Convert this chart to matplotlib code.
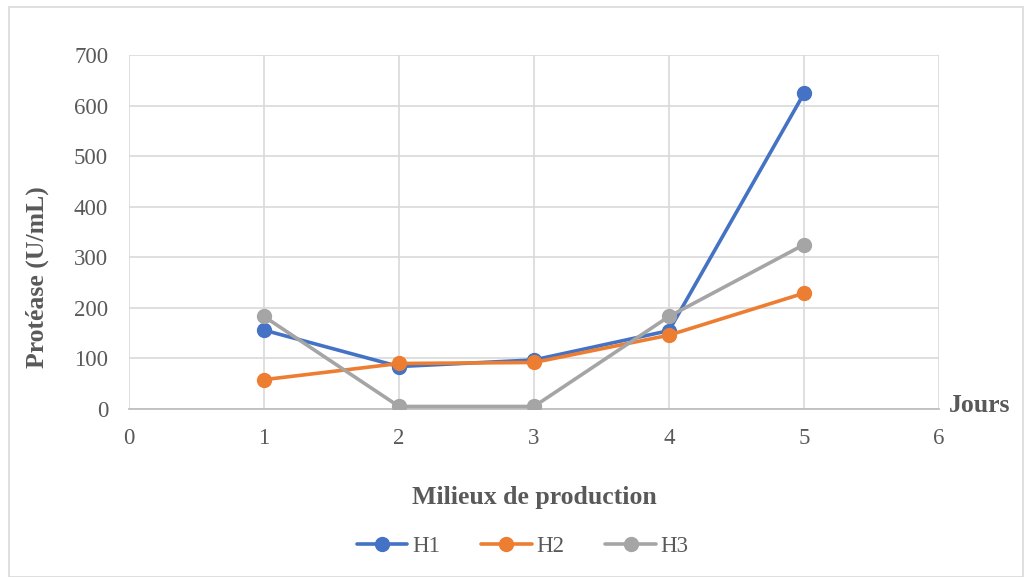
import matplotlib
matplotlib.use("Agg")
import matplotlib.pyplot as plt
from matplotlib.patches import Rectangle

# Production media (days) and protease activity per strain
jours = [1, 2, 3, 4, 5]
h1 = [156, 84, 97, 155, 624]
h2 = [58, 90, 92, 146, 229]
h3 = [183, 5, 5, 183, 325]

series = [("H1", h1, "#4472C4"), ("H2", h2, "#ED7D31"), ("H3", h3, "#A5A5A5")]

plt.rcParams["font.family"] = ["Liberation Serif", "DejaVu Serif"]

fig = plt.figure(figsize=(10.31, 5.77), dpi=100)
ax = fig.add_axes([129 / 1031, 1 - 409 / 577, 810 / 1031, 354 / 577])

for name, vals, col in series:
    ax.plot(jours, vals, color=col, lw=2.6, marker="o", ms=10, label=name,
            solid_capstyle="round", zorder=3)

ax.set_xlim(0, 6)
ax.set_ylim(0, 700)
ax.set_xticks(range(0, 7))
ax.set_yticks(range(0, 701, 100))
ax.grid(True, color="#D9D9D9", lw=1.2, zorder=0)
ax.set_axisbelow(True)
for s in ax.spines.values():
    s.set_visible(False)
ax.spines["bottom"].set_visible(True)
ax.spines["bottom"].set_color("#BFBFBF")
ax.spines["bottom"].set_linewidth(1.3)
ax.tick_params(length=0, labelsize=16.5, colors="#595959")
ax.tick_params(axis="x", pad=14)
ax.tick_params(axis="y", pad=15)

# Y title sits a little below the plot centre
fig.text(37 / 1031, 1 - 277 / 577, "Protéase (U/mL)", fontsize=18.5, fontweight="bold",
         color="#595959", ha="center", va="center", rotation=90)
ax.set_xlabel("Milieux de production", fontsize=18.5, fontweight="bold", color="#595959", labelpad=26)
fig.text(980 / 1031, 1 - 406 / 577, "Jours", fontsize=18.5, fontweight="bold",
         color="#595959", ha="center", va="center")

fig.legend(loc="center", bbox_to_anchor=(0.507, 1 - 546 / 577), ncol=3, frameon=False,
           fontsize=16.5, handlelength=2.2, columnspacing=1.8, handletextpad=0.2,
           labelcolor="#595959")

fig.patches.append(Rectangle((9 / 1031, 0), 1014 / 1031, 1 - 7 / 577,
                             transform=fig.transFigure, fill=False,
                             edgecolor="#D9D9D9", lw=1.2))

fig.savefig("out.png", dpi=100)
